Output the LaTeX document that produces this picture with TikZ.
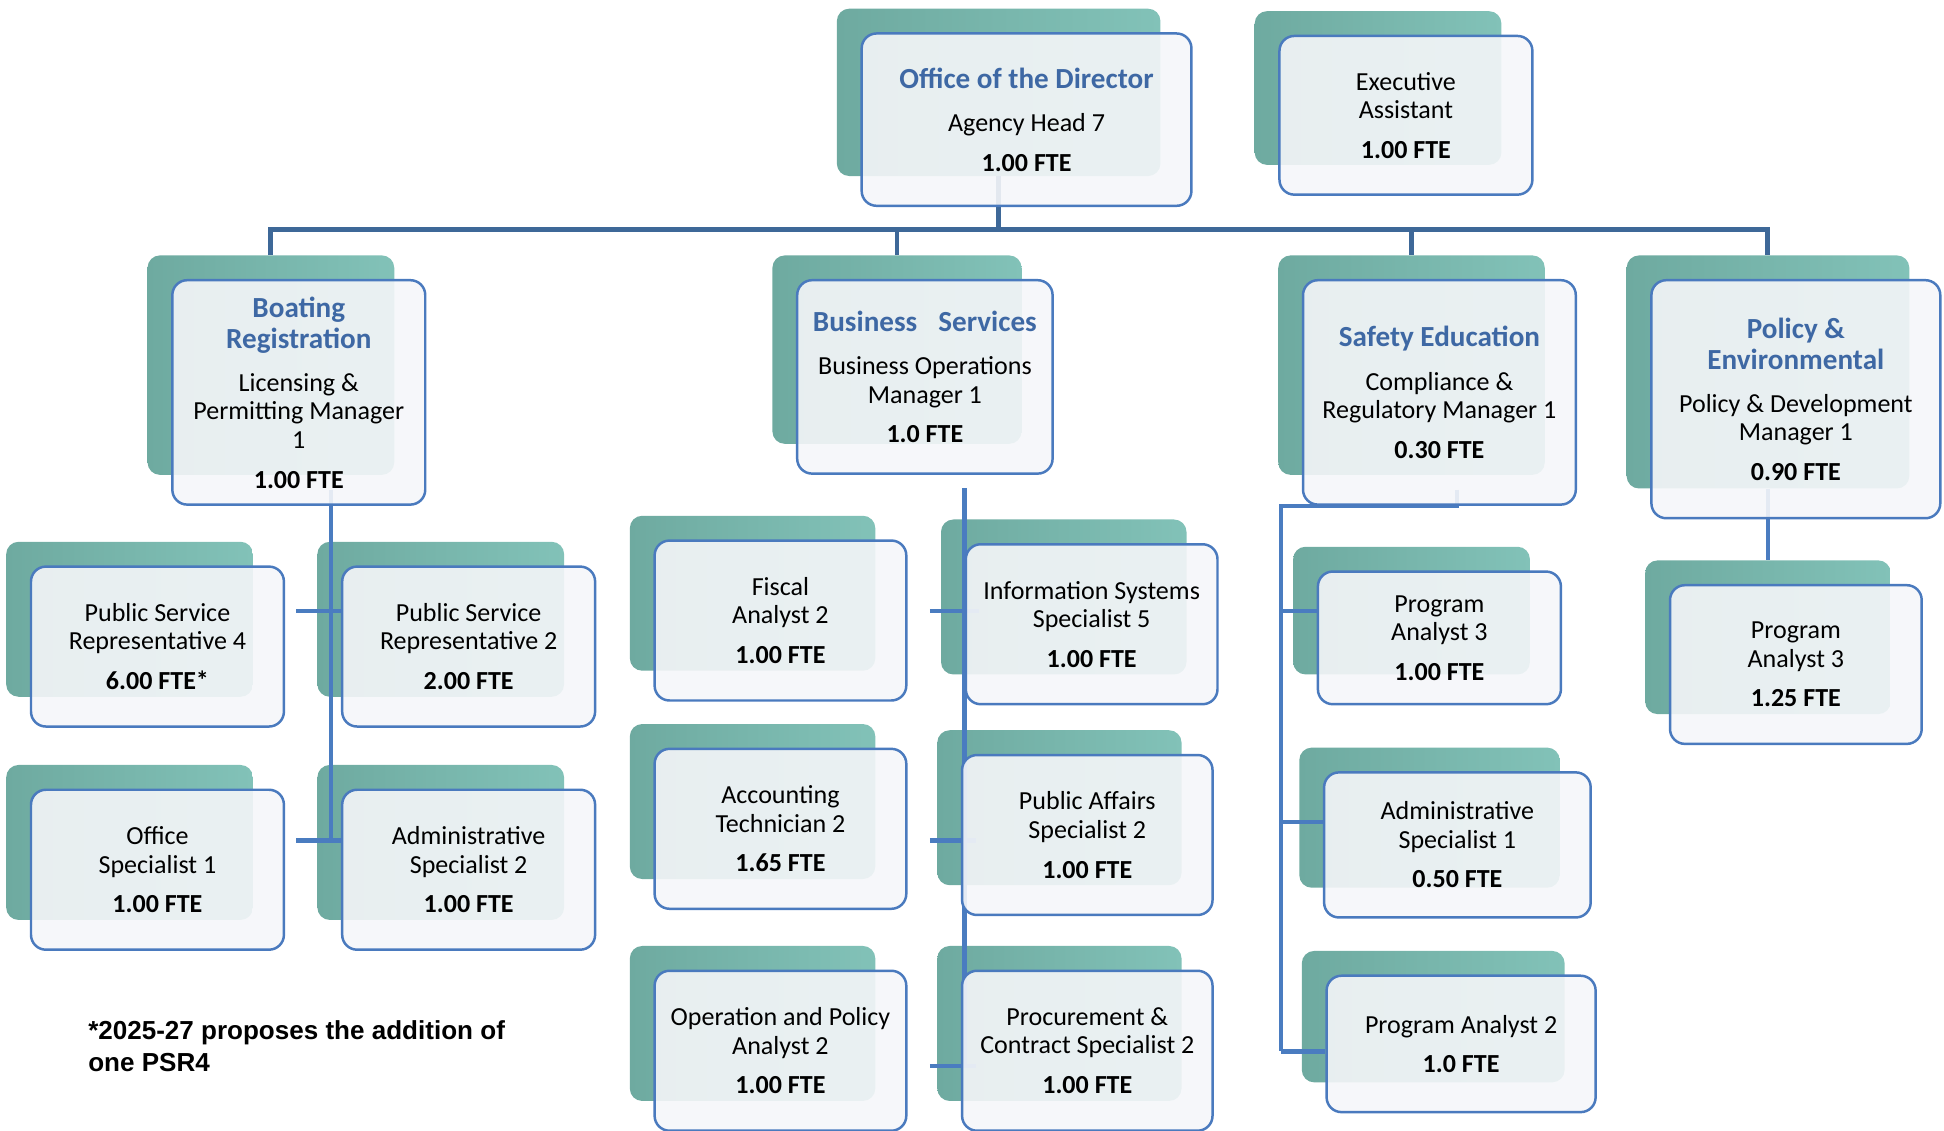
\documentclass[tikz,border=0pt]{standalone}
\usepackage{fontspec}
\setmainfont{Carlito}
\newfontfamily\notefont{Liberation Sans}
\usetikzlibrary{calc}

\definecolor{titleblue}{RGB}{62,104,164}
\definecolor{cardline}{RGB}{74,122,190}
\definecolor{busblue}{RGB}{62,104,152}
\definecolor{linkblue}{RGB}{74,124,192}
\definecolor{tealdark}{RGB}{110,170,160}
\definecolor{tealmid}{RGB}{124,188,178}
\definecolor{teallight}{RGB}{130,194,184}
\definecolor{cardfill}{RGB}{245,246,249}

\pgfdeclarelayer{shadows}
\pgfdeclarelayer{links}
\pgfsetlayers{shadows,links,main}

\tikzset{
  backcard/.style={rounded corners=10pt, left color=tealdark, middle color=tealmid, right color=teallight, inner sep=0pt},
  card/.style={draw=cardline, line width=2pt, rounded corners=12pt, fill=cardfill, fill opacity=0.9, text opacity=1,
    align=center, inner sep=0pt, font=\fontsize{21}{23}\selectfont},
  link/.style={draw=linkblue, line width=3.5pt},
  bus/.style={draw=busblue, line width=4pt},
  note/.style={align=left, inner sep=0pt, font={\notefont\bfseries\fontsize{21}{26}\selectfont}}
}

\newcommand{\grouphead}[1]{{\fontsize{23.5}{25}\selectfont\bfseries\color{titleblue}#1}}
\newcommand{\fte}[1]{\textbf{#1}}

% card with its teal back plate: name, x, y, width, height, text
\newcommand{\card}[6]{%
  \begin{pgfonlayer}{shadows}
    \node[backcard, minimum width=#4pt-5pt, minimum height=#5pt-4pt] (#1-s) at (#2-22.5,#3-22) {};
  \end{pgfonlayer}
  \node[card, minimum width=#4pt, minimum height=#5pt] (#1) at (#2,#3) {#6};
}

\begin{document}
\begin{tikzpicture}[x=1pt,y=-1pt]
    \useasboundingbox (0,0) rectangle (1568,912);

    % Top
    \card{dir}{828}{96.5}{266}{139}{\grouphead{Office of the Director}\\[12pt]Agency Head 7\\[9pt]\fte{1.00 FTE}}
    \card{exec}{1134}{93}{204}{128}{Executive\\Assistant\\[9pt]\fte{1.00 FTE}}

    % Units
    \card{boat}{241}{316.5}{204}{181}{\grouphead{Boating}\\[2pt]\grouphead{Registration}\\[12pt]Licensing \&\\Permitting Manager\\1\\[9pt]\fte{1.00 FTE}}
    \card{biz}{746}{304}{206}{156}{\grouphead{Business\hspace{17pt}Services}\\[12pt]Business Operations\\Manager 1\\[9pt]\fte{1.0 FTE}}
    \card{safety}{1161}{316.5}{220}{181}{\grouphead{Safety Education}\\[12pt]Compliance \&\\Regulatory Manager 1\\[9pt]\fte{0.30 FTE}}
    \card{policy}{1448.5}{322}{233}{192}{\grouphead{Policy \&}\\[2pt]\grouphead{Environmental}\\[12pt]Policy \& Development\\Manager 1\\[9pt]\fte{0.90 FTE}}

    % Boating Registration staff
    \card{psr4}{127}{521.5}{204}{129}{Public Service\\Representative 4\\[9pt]\fte{6.00 FTE*}}
    \card{psr2}{378}{521.5}{204}{129}{Public Service\\Representative 2\\[9pt]\fte{2.00 FTE}}
    \card{offspec}{127}{701.5}{204}{129}{Office\\Specialist 1\\[9pt]\fte{1.00 FTE}}
    \card{adm2}{378}{701.5}{204}{129}{Administrative\\Specialist 2\\[9pt]\fte{1.00 FTE}}

    % Business Services staff
    \card{fiscal}{629.5}{500.5}{203}{129}{Fiscal\\Analyst 2\\[9pt]\fte{1.00 FTE}}
    \card{iss5}{880.5}{503.5}{203}{129}{Information Systems\\Specialist 5\\[9pt]\fte{1.00 FTE}}
    \card{acct}{629.5}{668.5}{203}{129}{Accounting\\Technician 2\\[9pt]\fte{1.65 FTE}}
    \card{pas2}{877}{673.5}{202}{129}{Public Affairs\\Specialist 2\\[9pt]\fte{1.00 FTE}}
    \card{opa}{629.5}{847.5}{203}{129}{Operation and Policy\\Analyst 2\\[9pt]\fte{1.00 FTE}}
    \card{proc}{877}{847.5}{202}{129}{Procurement \&\\Contract Specialist 2\\[9pt]\fte{1.00 FTE}}

    % Safety Education staff
    \card{safepa3}{1161}{514.5}{196}{107}{Program\\Analyst 3\\[9pt]\fte{1.00 FTE}}
    \card{adm1}{1175.5}{681.5}{215}{117}{Administrative\\Specialist 1\\[9pt]\fte{0.50 FTE}}
    \card{pa2}{1178.5}{842}{217}{110}{Program Analyst 2\\[9pt]\fte{1.0 FTE}}

    % Policy & Environmental staff
    \card{polpa3}{1448.5}{536}{203}{128}{Program\\Analyst 3\\[9pt]\fte{1.25 FTE}}

    % Lines
    \begin{pgfonlayer}{links}
        \coordinate (bus) at (0,185);
        \draw[bus] (dir-s.south) -- (dir-s.south |- bus);
        \draw[bus] (boat-s.north) |- (policy-s.north |- bus) -- (policy-s.north);
        \draw[bus] (biz-s.north) -- (biz-s.north |- bus);
        \draw[bus] (safety-s.north) -- (safety-s.north |- bus);

        \coordinate (boat-j) at (267,395);
        \draw[link] (boat-j) -- (267,678);
        \foreach \y/\n in {493/psr2, 678/adm2} {
            \coordinate (t) at (239,\y);
            \draw[link] (t) -- (t -| \n.west);
        }

        \coordinate (biz-j) at (778,394);
        \draw[link] (biz-j) -- (778,860);
        \foreach \y/\n in {493/iss5, 678/pas2, 860/proc} {
            \coordinate (t) at (750,\y);
            \draw[link] (t) -- ($(t -| \n.west)+(12,0)$);
        }

        \coordinate (safe-j) at (1175,395);
        \draw[link] (safe-j) |- (1033,408) -- (1033,848);
        \foreach \y/\n in {493/safepa3, 663/adm1, 848/pa2} {
            \coordinate (t) at (1033,\y);
            \draw[link] (t) -- (t -| \n.west);
        }

        \draw[link] (policy-s.south) -- (polpa3-s.north);
    \end{pgfonlayer}

    % Footnote
    \node[note, anchor=north west] (note) at (71,823) {*2025-27 proposes the addition of\\one PSR4};

\end{tikzpicture}
\end{document}
